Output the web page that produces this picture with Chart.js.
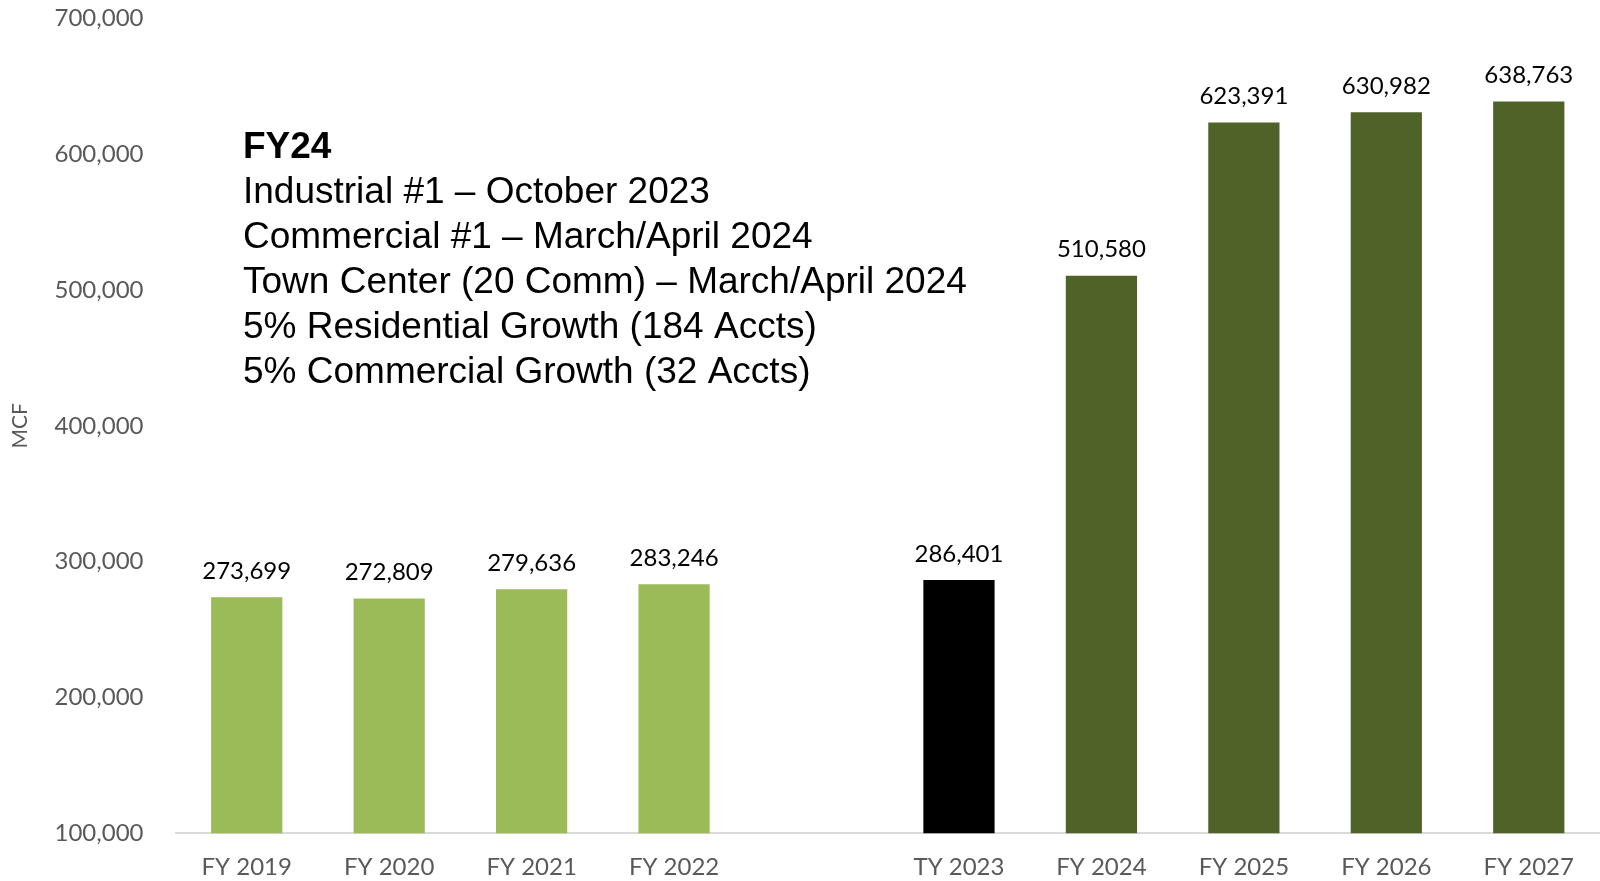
<!DOCTYPE html>
<html>
<head>
<meta charset="utf-8">
<script src="https://cdn.jsdelivr.net/npm/chart.js@4.4.0/dist/chart.umd.min.js"></script>
<style>
  body { margin: 0; background: #fff; }
  #wrap { width: 1600px; height: 881px; }
</style>
</head>
<body>
<div id="wrap"><canvas id="myChart" width="1600" height="881"></canvas></div>
<script>
var years = ['FY 2019', 'FY 2020', 'FY 2021', 'FY 2022', '', 'TY 2023', 'FY 2024', 'FY 2025', 'FY 2026', 'FY 2027'];
var mcf = [273699, 272809, 279636, 283246, null, 286401, 510580, 623391, 630982, 638763];
var barColors = ['#9BBB59', '#9BBB59', '#9BBB59', '#9BBB59', '#9BBB59', '#000000', '#4F6228', '#4F6228', '#4F6228', '#4F6228'];
var noteTitle = 'FY24';
var noteLines = [
  'Industrial #1 \u2013 October 2023',
  'Commercial #1 \u2013 March/April 2024',
  'Town Center (20 Comm) \u2013 March/April 2024',
  '5% Residential Growth (184 Accts)',
  '5% Commercial Growth (32 Accts)'
];

// value labels above each bar
var valueLabels = {
  id: 'valueLabels',
  afterDatasetsDraw: function(chart) {
    var c = chart.ctx;
    var meta = chart.getDatasetMeta(0);
    c.save();
    c.font = '24px Lato';
    c.fillStyle = '#000';
    c.textAlign = 'center';
    c.textBaseline = 'bottom';
    meta.data.forEach(function(bar, i) {
      if (mcf[i] == null) return;
      c.fillText(mcf[i].toLocaleString('en-US'), bar.x, bar.y - 14);
    });
    c.restore();
  }
};

// the FY24 note box
var note = {
  id: 'note',
  afterDraw: function(chart) {
    var c = chart.ctx;
    c.save();
    c.fillStyle = '#000';
    c.textBaseline = 'alphabetic';
    c.font = 'bold 37px "Liberation Sans"';
    c.fillText(noteTitle, 243, 158);
    c.font = '37px "Liberation Sans"';
    for (var i = 0; i < noteLines.length; i++) {
      c.fillText(noteLines[i], 243, 203 + i * 45);
    }
    c.restore();
  }
};

var ctx = document.getElementById('myChart').getContext('2d');
var myChart = new Chart(ctx, {
  type: 'bar',
  data: {
    labels: years,
    datasets: [{
      label: 'MCF',
      data: mcf,
      backgroundColor: barColors,
      barPercentage: 1,
      categoryPercentage: 0.5
    }]
  },
  options: {
    responsive: false,
    animation: false,
    layout: { padding: { top: 4, right: 0, left: 8, bottom: -13 } },
    plugins: {
      legend: { display: false },
      tooltip: { enabled: false }
    },
    scales: {
      x: {
        grid: { display: false },
        border: { display: true, color: '#D9D9D9', width: 2 },
        ticks: { color: '#595959', font: { family: 'Lato', size: 24 }, padding: 12 }
      },
      y: {
        min: 100000,
        max: 700000,
        afterFit: function(scale) { scale.width = 167.5; },
        grid: { display: true, drawOnChartArea: false, drawTicks: true, tickLength: 28, color: 'rgba(0,0,0,0)' },
        border: { display: false },
        title: { display: true, text: 'MCF', color: '#595959', font: { family: 'Lato', size: 21 }, padding: { top: 0, bottom: 0 } },
        ticks: {
          stepSize: 100000,
          color: '#595959',
          font: { family: 'Lato', size: 24 },
          padding: 4,
          callback: function(v) { return v.toLocaleString('en-US'); }
        }
      }
    }
  },
  plugins: [valueLabels, note]
});
</script>
</body>
</html>
